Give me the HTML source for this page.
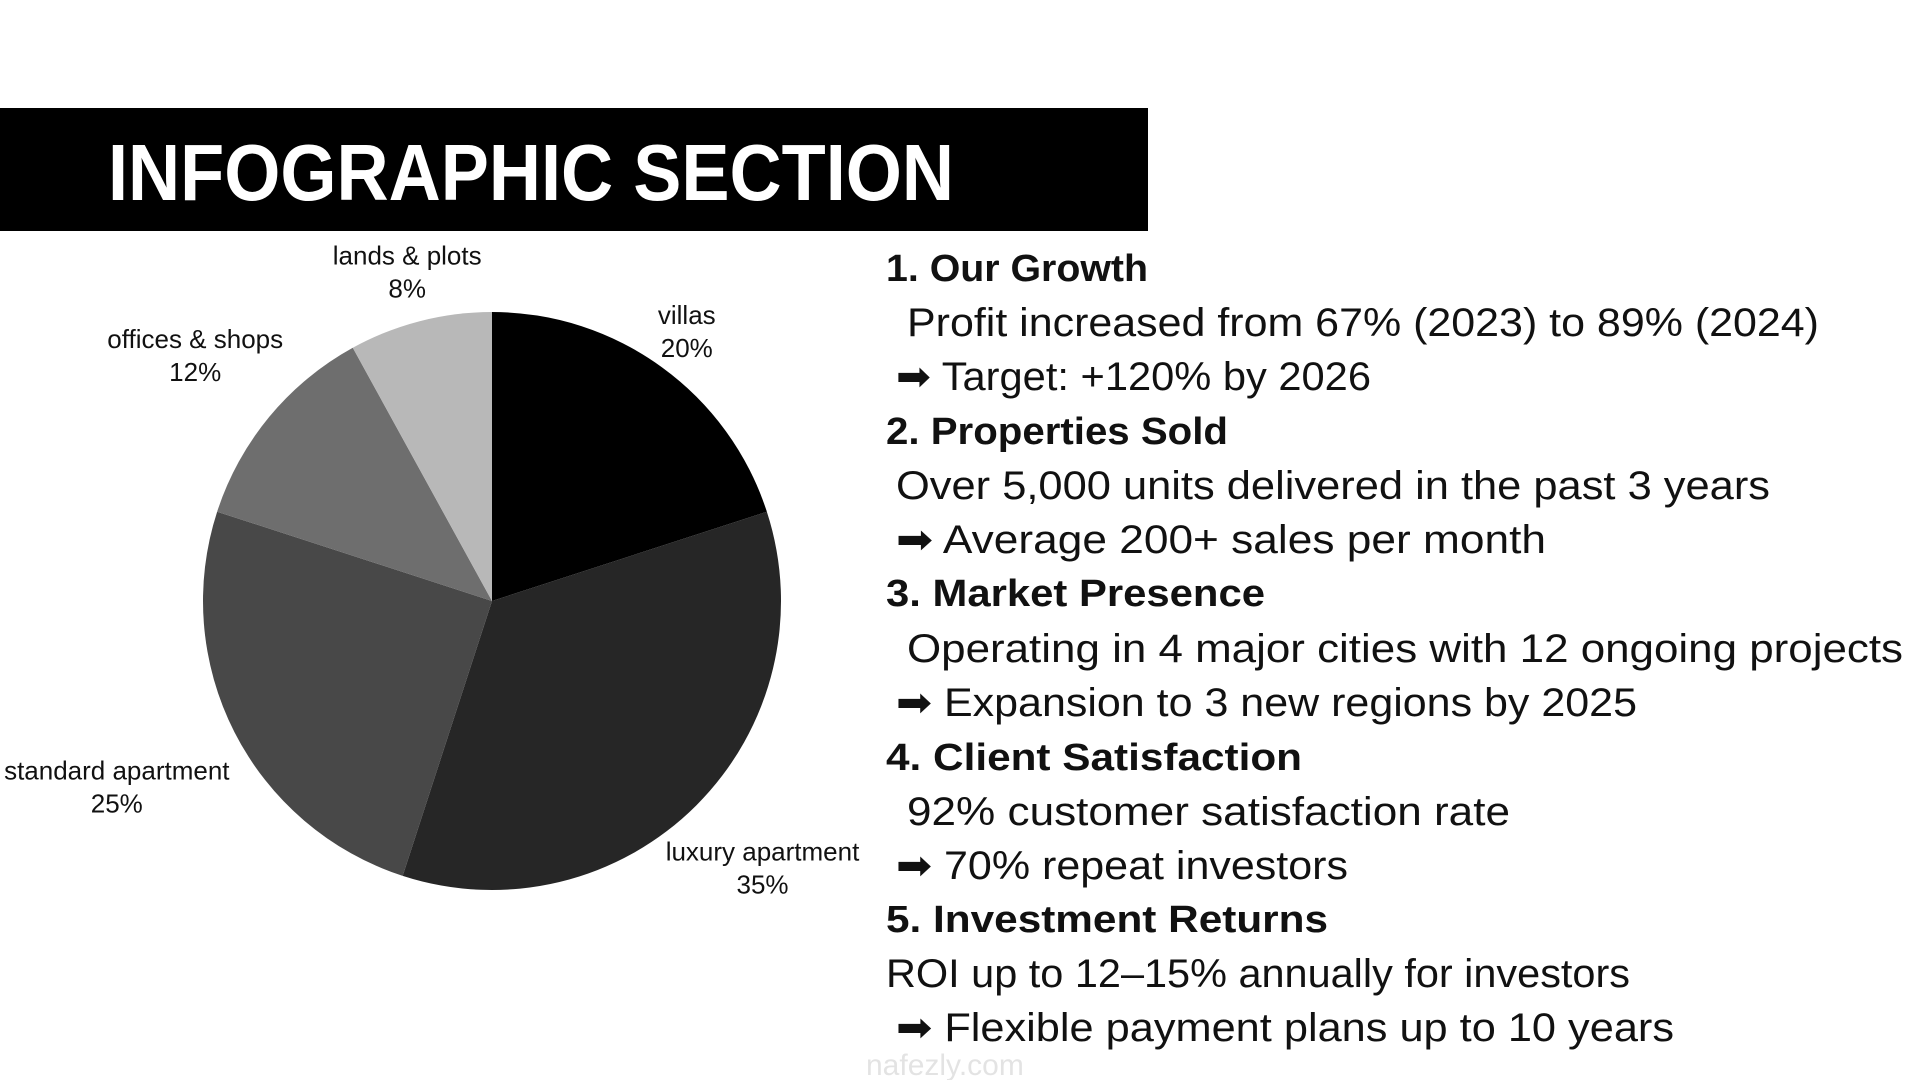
<!DOCTYPE html>
<html><head><meta charset="utf-8"><style>
html,body{margin:0;padding:0;background:#fff;width:1920px;height:1080px;overflow:hidden}
svg text{font-family:"Liberation Sans","DejaVu Sans",sans-serif}
</style></head><body>
<svg id="page" width="1920" height="1080" viewBox="0 0 1920 1080" xmlns="http://www.w3.org/2000/svg">
<rect width="1920" height="1080" fill="#fff"/>
<g>
<rect x="0" y="108" width="1148" height="123" fill="#000"/>
<text x="108" y="200" fill="#fff" font-size="80" font-weight="bold" textLength="846" lengthAdjust="spacingAndGlyphs">INFOGRAPHIC SECTION</text>
</g>
<g id="pie"></g>
<g id="labels"></g>
<g fill="#111">
<text x="886" y="281" font-size="38" font-weight="bold" textLength="262" lengthAdjust="spacingAndGlyphs">1. Our Growth</text>
<text x="907" y="336" font-size="40" textLength="912" lengthAdjust="spacingAndGlyphs">Profit increased from 67% (2023) to 89% (2024)</text>
<text x="896" y="390" font-size="40" textLength="475" lengthAdjust="spacingAndGlyphs">➡ Target: +120% by 2026</text>
<text x="886" y="444" font-size="38" font-weight="bold" textLength="342" lengthAdjust="spacingAndGlyphs">2. Properties Sold</text>
<text x="896" y="499" font-size="40" textLength="874" lengthAdjust="spacingAndGlyphs">Over 5,000 units delivered in the past 3 years</text>
<text x="896" y="553" font-size="40" textLength="650" lengthAdjust="spacingAndGlyphs">➡ Average 200+ sales per month</text>
<text x="886" y="606" font-size="38" font-weight="bold" textLength="379" lengthAdjust="spacingAndGlyphs">3. Market Presence</text>
<text x="907" y="662" font-size="40" textLength="996" lengthAdjust="spacingAndGlyphs">Operating in 4 major cities with 12 ongoing projects</text>
<text x="896" y="716" font-size="40" textLength="741" lengthAdjust="spacingAndGlyphs">➡ Expansion to 3 new regions by 2025</text>
<text x="886" y="770" font-size="38" font-weight="bold" textLength="416" lengthAdjust="spacingAndGlyphs">4. Client Satisfaction</text>
<text x="907" y="825" font-size="40" textLength="603" lengthAdjust="spacingAndGlyphs">92% customer satisfaction rate</text>
<text x="896" y="879" font-size="40" textLength="452" lengthAdjust="spacingAndGlyphs">➡ 70% repeat investors</text>
<text x="886" y="932" font-size="38" font-weight="bold" textLength="442" lengthAdjust="spacingAndGlyphs">5. Investment Returns</text>
<text x="886" y="987" font-size="40" textLength="744" lengthAdjust="spacingAndGlyphs">ROI up to 12–15% annually for investors</text>
<text x="896" y="1041" font-size="40" textLength="778" lengthAdjust="spacingAndGlyphs">➡ Flexible payment plans up to 10 years</text>
</g>
<text x="866" y="1075" font-size="30" fill="#ddd" opacity="0.8">nafezly.com</text>
</svg>
<script>
const categories = ["villas", "luxury apartment", "standard apartment", "offices & shops", "lands & plots"];
const values = [20, 35, 25, 12, 8];
const colors = ["#000000", "#262626", "#484848", "#6e6e6e", "#b8b8b8"];
const labelText = ["20%", "35%", "25%", "12%", "8%"];

const NS = "http://www.w3.org/2000/svg";
const cx = 492, cy = 601, r = 289;
const total = values.reduce((a, b) => a + b, 0);
const pie = document.getElementById("pie");
const labels = document.getElementById("labels");
function pt(angle, rad) { return [cx + rad * Math.sin(angle), cy - rad * Math.cos(angle)]; }
let start = 0;
values.forEach((v, i) => {
  const sweep = v / total * Math.PI * 2;
  const end = start + sweep;
  const [x1, y1] = pt(start, r), [x2, y2] = pt(end, r);
  const p = document.createElementNS(NS, "path");
  p.setAttribute("d", `M${cx},${cy} L${x1},${y1} A${r},${r} 0 ${sweep > Math.PI ? 1 : 0} 1 ${x2},${y2} Z`);
  p.setAttribute("fill", colors[i]);
  
  
  pie.appendChild(p);
  const mid = start + sweep / 2;
  let [lx, ly] = pt(mid, r * 1.27);
  if (i === 0) { [lx, ly] = pt(mid, r * 1.07); lx += 13; ly -= 19; }
  if (i === 1) { lx += 11; ly += 8; }
  if (i === 2) { [lx, ly] = pt(mid, r * 1.36); lx -= 25; ly += 8; }
  if (i === 3) { lx -= 14; ly -= 11; }
  if (i === 4) { [lx, ly] = pt(mid, r * 1.18); ly += 2; }
  const g = document.createElementNS(NS, "g");
  
  
  const t1 = document.createElementNS(NS, "text");
  t1.setAttribute("x", lx); t1.setAttribute("y", ly - 8);
  t1.setAttribute("text-anchor", "middle"); t1.setAttribute("font-size", "26"); t1.setAttribute("fill", "#111");
  t1.textContent = categories[i];
  const t2 = document.createElementNS(NS, "text");
  t2.setAttribute("x", lx); t2.setAttribute("y", ly + 25);
  t2.setAttribute("text-anchor", "middle"); t2.setAttribute("font-size", "26"); t2.setAttribute("fill", "#111");
  t2.textContent = labelText[i];
  g.appendChild(t1); g.appendChild(t2);
  labels.appendChild(g);
  start = end;
});
</script>
</body></html>
